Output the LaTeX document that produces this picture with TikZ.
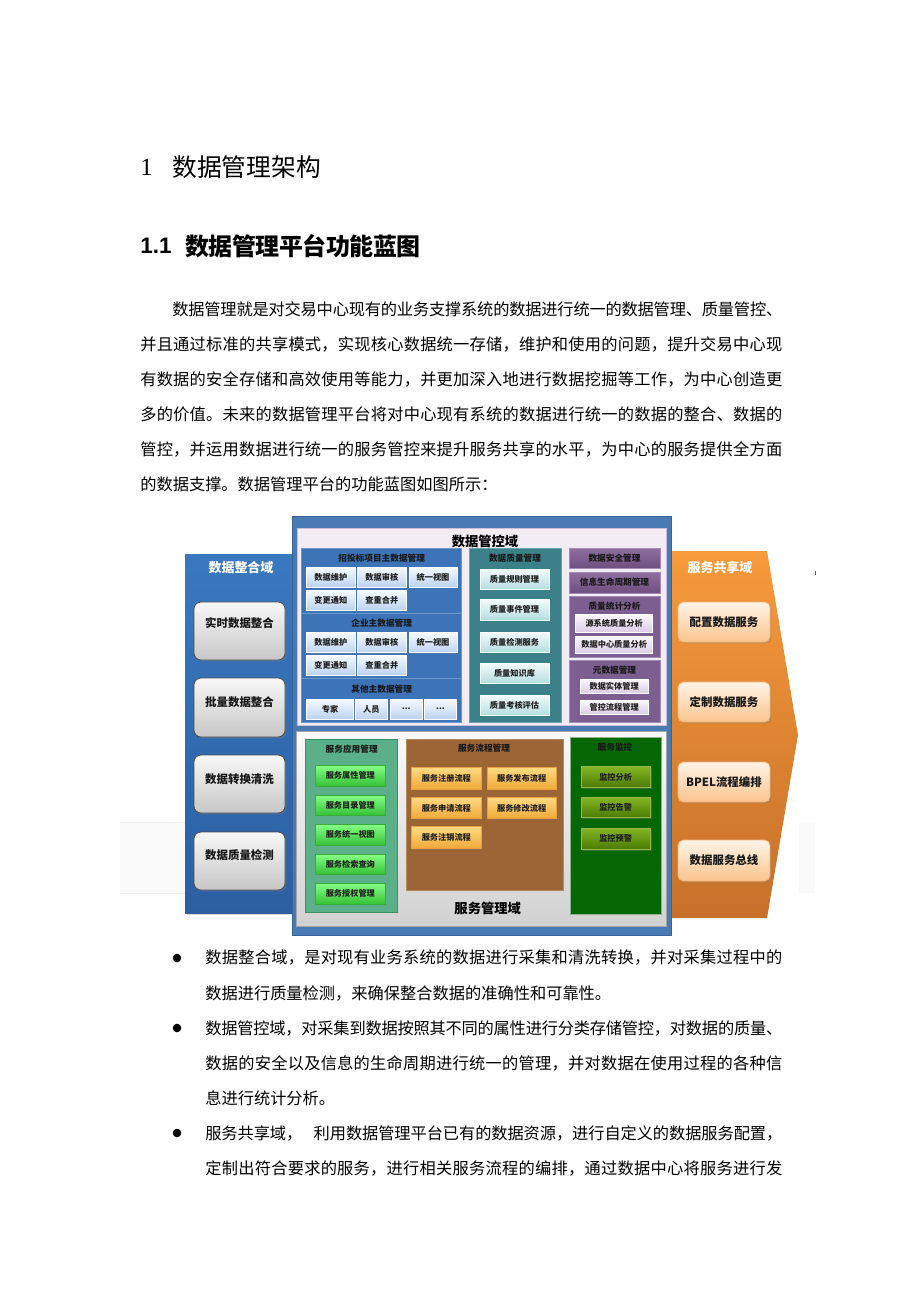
\documentclass[tikz,border=0pt]{standalone}
\usepackage{fontspec}
\setmainfont{Noto Sans CJK SC}
\newfontfamily\tnr{Liberation Serif}
\newfontfamily\arl{Liberation Sans}
\usetikzlibrary{shadows,calc}
% inter-character glue for CJK justification
\XeTeXinterchartokenstate=1
\chardef\cjkcls=7
\newcount\mycnt
\mycnt="3000 \loop\XeTeXcharclass\mycnt=\cjkcls\advance\mycnt by 1\relax\ifnum\mycnt<"3040 \repeat
\mycnt="4E00 \loop\XeTeXcharclass\mycnt=\cjkcls\advance\mycnt by 1\relax\ifnum\mycnt<"A000 \repeat
\mycnt="FF00 \loop\XeTeXcharclass\mycnt=\cjkcls\advance\mycnt by 1\relax\ifnum\mycnt<"FFF0 \repeat
\XeTeXinterchartoks\cjkcls\cjkcls={\hskip0pt plus 3pt minus 0.3pt\relax}
\newdimen\pxu \pxu=0.6467pt
\definecolor{lpTop}{HTML}{3A78BF}\definecolor{lpBot}{HTML}{2B5FA2}
\definecolor{rpTop}{HTML}{F79A3B}\definecolor{rpBot}{HTML}{C6702A}
\definecolor{frame}{HTML}{4A7AB3}\definecolor{frameD}{HTML}{37629A}
\definecolor{upper}{HTML}{F3ECF5}\definecolor{upperD}{HTML}{CDBED6}
\definecolor{mblue}{HTML}{3D73B7}\definecolor{mblueL}{HTML}{6B97CC}
\definecolor{teal}{HTML}{3C8189}\definecolor{tealL}{HTML}{6AA3AA}
\definecolor{purT}{HTML}{8F6EA0}\definecolor{purB}{HTML}{6E5080}
\definecolor{purS}{HTML}{7D5E90}\definecolor{purL}{HTML}{A48BB4}
\definecolor{gapp}{HTML}{5BAF89}\definecolor{gappD}{HTML}{3E8E6A}
\definecolor{brown}{HTML}{9C6535}\definecolor{brownL}{HTML}{B58A5C}
\definecolor{mon}{HTML}{056805}\definecolor{monL}{HTML}{8FAF8F}
\newcommand\bx[6]{\path[#2] #4 rectangle #5; \node[#3] (#1) at ($#4!0.5!#5$) {#6};}
\tikzset{
  body/.style={inner sep=0, anchor=west, font=\fontsize{10.5}{12}\selectfont, text=black},
  shd/.style={drop shadow={opacity=0.35, shadow xshift=0.9pt, shadow yshift=-0.9pt}},
  tiny/.style={inner sep=0, font=\bfseries\fontsize{5.3}{6}\selectfont, text=black!88},
  sub/.style={inner sep=0, font=\bfseries\fontsize{5.6}{6.5}\selectfont, text=black!90},
  side/.style={inner sep=0, font=\bfseries\fontsize{7.4}{8}\selectfont, text=black!90},
  ptitle/.style={inner sep=0, font=\bfseries\fontsize{8.4}{9}\selectfont, text=white},
  btitle/.style={inner sep=0, font=\bfseries\fontsize{8.6}{9}\selectfont, text=black},
  gbtn/.style={shd, rounded corners=4.5pt, top color=white!97!black, bottom color=black!22, draw=black!70, line width=0.5pt},
  obtn/.style={shd, rounded corners=3.5pt, top color={rgb,255:red,255;green,244;blue,232}, bottom color={rgb,255:red,251;green,196;blue,140}, draw={rgb,255:red,242;green,181;blue,122}, line width=0.4pt},
  bbtn/.style={shd, top color={rgb,255:red,246;green,250;blue,255}, bottom color={rgb,255:red,188;green,210;blue,240}, draw=white, line width=0.4pt},
  tbtn/.style={shd, top color={rgb,255:red,243;green,251;blue,251}, bottom color={rgb,255:red,181;green,221;blue,225}, draw=white, line width=0.4pt},
  pbtn/.style={shd, top color={rgb,255:red,251;green,248;blue,253}, bottom color={rgb,255:red,220;green,205;blue,230}, draw=white, line width=0.4pt},
  pbox/.style={shd, top color=purT, bottom color=purB, draw=purL, line width=0.4pt},
  grbtn/.style={shd, top color={rgb,255:red,134;green,255;blue,134}, bottom color={rgb,255:red,54;green,194;blue,54}, draw={rgb,255:red,58;green,170;blue,58}, line width=0.4pt},
  ybtn/.style={shd, top color={rgb,255:red,255;green,218;blue,128}, bottom color={rgb,255:red,239;green,169;blue,58}, draw={rgb,255:red,232;green,160;blue,64}, line width=0.4pt},
  mbtn/.style={shd, top color={rgb,255:red,132;green,181;blue,36}, bottom color={rgb,255:red,75;green,122;blue,2}, draw={rgb,255:red,148;green,184;blue,74}, line width=0.4pt},
}
\begin{document}
\begin{tikzpicture}[x=0.6467pt, y=-0.6467pt]
\useasboundingbox (0,0) rectangle (920,1302);
\fill[white] (0,0) rectangle (920,1302);

% ---------- headings ----------
\node[inner sep=0, anchor=west, font=\tnr\fontsize{16}{18}\selectfont] (h1n) at (140,167) {1};
\node[inner sep=0, anchor=west, font=\fontsize{16}{18}\selectfont] (h1t) at (172,167) {数据管理架构};
\node[inner sep=0, anchor=west, font=\arl\bfseries\fontsize{14.5}{16}\selectfont] (h2n) at (140,246) {1.1};
\node[inner sep=0, anchor=west, font=\bfseries\fontsize{15.5}{17}\selectfont] (h2t) at (185,246) {\makebox[230\pxu][s]{数据管理平台功能蓝图}};

% ---------- paragraph ----------
\node[body] (p1) at (172,309) {\makebox[610\pxu][s]{数据管理就是对交易中心现有的业务支撑系统的数据进行统一的数据管理、质量管控、}};
\node[body] (p2) at (140,344) {\makebox[642\pxu][s]{并且通过标准的共享模式，实现核心数据统一存储，维护和使用的问题，提升交易中心现}};
\node[body] (p3) at (140,379) {\makebox[642\pxu][s]{有数据的安全存储和高效使用等能力，并更加深入地进行数据挖掘等工作，为中心创造更}};
\node[body] (p4) at (140,414) {\makebox[642\pxu][s]{多的价值。未来的数据管理平台将对中心现有系统的数据进行统一的数据的整合、数据的}};
\node[body] (p5) at (140,449) {\makebox[642\pxu][s]{管控，并运用数据进行统一的服务管控来提升服务共享的水平，为中心的服务提供全方面}};
\node[body] (p6) at (140,484) {的数据支撑。数据管理平台的功能蓝图如图所示：};

% ---------- faint scan artifacts ----------
\fill[black!2] (120,822) rectangle (185,893);
\draw[black!6, line width=0.3pt] (120,822) -- (185,822) (120,893) -- (185,893);
\fill[black!2] (799,822) rectangle (815,893);

% ---------- left panel ----------
\path[drop shadow={opacity=0.3, shadow xshift=1.5pt, shadow yshift=-1.5pt}, top color=lpTop, bottom color=lpBot] (185,554) rectangle (300,913);
\node[ptitle] (lt) at (241,568) {数据整合域};
\path[gbtn] (194,602) rectangle (285,660); \node[side] (l1) at (239.5,623) {实时数据整合};
\path[gbtn] (194,678) rectangle (285,737); \node[side] (l2) at (239.5,702) {批量数据整合};
\path[gbtn] (194,755) rectangle (285,813); \node[side] (l3) at (239.5,779) {数据转换清洗};
\path[gbtn] (194,832) rectangle (285,890); \node[side] (l4) at (239.5,855) {数据质量检测};

% ---------- right panel ----------
\path[top color=rpTop, bottom color=rpBot] (660,551) -- (767,551) -- (798,735) -- (767,918) -- (660,918) -- cycle;
\node[ptitle] (rt) at (720,568) {服务共享域};
\bx{r1}{obtn}{side}{(678,602)}{(770,642)}{配置数据服务}
\bx{r2}{obtn}{side}{(678,682)}{(770,722)}{定制数据服务}
\bx{r3}{obtn}{side}{(678,762)}{(770,802)}{BPEL流程编排}
\bx{r4}{obtn}{side}{(678,840)}{(770,881)}{数据服务总线}
\fill[black!60] (814.5,571) rectangle (815.5,575);

% ---------- center frame ----------
\path[fill=frame, draw=frameD, line width=0.5pt] (292,516) rectangle (671,935);
\path[fill=upper, draw=upperD, line width=0.4pt] (297.7,528) rectangle (666,725);
\node[btitle] (ct) at (485,541) {数据管控域};

% master data block
\path[fill=mblue, draw=mblueL, line width=0.5pt] (301.7,548) rectangle (461.7,722);
\draw[mblueL, line width=0.6pt] (301.7,613) -- (461.7,613);
\draw[mblueL, line width=0.6pt] (301.7,678) -- (461.7,678);
\node[sub] (m1) at (381.7,557.7) {招投标项目主数据管理};
\bx{m1a}{bbtn}{tiny}{(306.7,567)}{(355,587)}{数据维护}
\bx{m1b}{bbtn}{tiny}{(357.7,567)}{(406,587)}{数据审核}
\bx{m1c}{bbtn}{tiny}{(409,567)}{(457,587)}{统一视图}
\bx{m1d}{bbtn}{tiny}{(306.7,590)}{(355,610)}{变更通知}
\bx{m1e}{bbtn}{tiny}{(357.7,590)}{(406,610)}{查重合并}
\node[sub] (m2) at (381.7,622.7) {企业主数据管理};
\bx{m2a}{bbtn}{tiny}{(306.7,632.7)}{(355,652.7)}{数据维护}
\bx{m2b}{bbtn}{tiny}{(357.7,632.7)}{(406,652.7)}{数据审核}
\bx{m2c}{bbtn}{tiny}{(409,632.7)}{(457,652.7)}{统一视图}
\bx{m2d}{bbtn}{tiny}{(306.7,655)}{(355,675)}{变更通知}
\bx{m2e}{bbtn}{tiny}{(357.7,655)}{(406,675)}{查重合并}
\node[sub] (m3) at (381.7,689.3) {其他主数据管理};
\bx{m3a}{bbtn}{tiny}{(306.7,699)}{(353.3,719)}{专家}
\bx{m3b}{bbtn}{tiny}{(355,699)}{(387.7,719)}{人员}
\bx{m3c}{bbtn}{tiny}{(390.3,699)}{(422.3,719)}{...}
\bx{m3d}{bbtn}{tiny}{(424.3,699)}{(456.7,719)}{...}

% data quality block
\path[fill=teal, draw=tealL, line width=0.5pt] (469,548) rectangle (561,722);
\node[sub] (q0) at (515,557.7) {数据质量管理};
\bx{q1}{tbtn}{tiny}{(480,569)}{(549,589)}{质量规则管理}
\bx{q2}{tbtn}{tiny}{(480,599)}{(549,620)}{质量事件管理}
\bx{q3}{tbtn}{tiny}{(480,632)}{(549,652)}{质量检测服务}
\bx{q4}{tbtn}{tiny}{(480,663)}{(549,683)}{质量知识库}
\bx{q5}{tbtn}{tiny}{(480,695)}{(549,715)}{质量考核评估}

% purple column
\bx{s1}{pbox}{sub}{(569,548)}{(660,568)}{数据安全管理}
\bx{s2}{pbox}{sub}{(569,572)}{(660,593)}{信息生命周期管理}
\path[fill=purS, draw=purL, line width=0.5pt] (569,596) rectangle (660,657);
\node[sub] (s3) at (614.5,606) {质量统计分析};
\bx{s3a}{pbtn}{tiny}{(575.7,614)}{(652.7,632)}{源系统质量分析}
\bx{s3b}{pbtn}{tiny}{(575.7,636)}{(652.7,653)}{数据中心质量分析}
\path[fill=purS, draw=purL, line width=0.5pt] (569,660) rectangle (660,722);
\node[sub] (s4) at (614.5,670) {元数据管理};
\bx{s4a}{pbtn}{tiny}{(580,679)}{(648.3,693)}{数据实体管理}
\bx{s4b}{pbtn}{tiny}{(580,700)}{(648.3,714)}{管控流程管理}

% lower region
\path[top color=black!2, bottom color=black!18, draw=black!35, line width=0.4pt] (296.7,731) rectangle (666.7,926.7);
\path[fill=gapp, draw=gappD, line width=0.5pt] (305.7,739.3) rectangle (397.7,912.3);
\node[sub] (a0) at (351.7,749) {服务应用管理};
\bx{a1}{grbtn}{tiny}{(315.7,765)}{(385,786)}{服务属性管理}
\bx{a2}{grbtn}{tiny}{(315.7,795)}{(385,815)}{服务目录管理}
\bx{a3}{grbtn}{tiny}{(315.7,824)}{(385,845)}{服务统一视图}
\bx{a4}{grbtn}{tiny}{(315.7,854)}{(385,874)}{服务检索查询}
\bx{a5}{grbtn}{tiny}{(315.7,883)}{(385,904)}{服务授权管理}

\path[fill=brown, draw=brownL, line width=0.5pt] (406,739.3) rectangle (563.3,890);
\node[sub] (f0) at (484,747.7) {服务流程管理};
\bx{f1}{ybtn}{tiny}{(411.7,767.7)}{(481,789)}{服务注册流程}
\bx{f2}{ybtn}{tiny}{(487.3,767.7)}{(556,789)}{服务发布流程}
\bx{f3}{ybtn}{tiny}{(411.7,797.7)}{(481,818.3)}{服务申请流程}
\bx{f4}{ybtn}{tiny}{(487.3,797.7)}{(556,818.3)}{服务修改流程}
\bx{f5}{ybtn}{tiny}{(411.7,826.7)}{(481,848.3)}{服务注销流程}
\node[btitle] (smt) at (487.7,908.3) {服务管理域};

\path[fill=mon, draw=monL, line width=0.5pt] (570.7,737.3) rectangle (661,914.3);
\node[sub] (j0) at (615,747) {服务监控};
\bx{j1}{mbtn}{tiny}{(581,766.7)}{(650.3,787.3)}{监控分析}
\bx{j2}{mbtn}{tiny}{(581,797.3)}{(650.3,817.7)}{监控告警}
\bx{j3}{mbtn}{tiny}{(581,828.3)}{(650.3,849.3)}{监控预警}

% ---------- bullet list ----------
\fill[black] (177,958) circle (4.3);
\fill[black] (177,1028) circle (4.3);
\fill[black] (177,1133) circle (4.3);
\node[body] (b1a) at (205,958) {\makebox[577\pxu][s]{数据整合域，是对现有业务系统的数据进行采集和清洗转换，并对采集过程中的}};
\node[body] (b1b) at (205,993) {数据进行质量检测，来确保整合数据的准确性和可靠性。};
\node[body] (b2a) at (205,1028) {\makebox[577\pxu][s]{数据管控域，对采集到数据按照其不同的属性进行分类存储管控，对数据的质量、}};
\node[body] (b2b) at (205,1063) {\makebox[577\pxu][s]{数据的安全以及信息的生命周期进行统一的管理，并对数据在使用过程的各种信}};
\node[body] (b2c) at (205,1098) {息进行统计分析。};
\node[body] (b3a) at (205,1133) {\makebox[577\pxu][s]{服务共享域，\hspace{0.7em}利用数据管理平台已有的数据资源，进行自定义的数据服务配置，}};
\node[body] (b3b) at (205,1168) {\makebox[577\pxu][s]{定制出符合要求的服务，进行相关服务流程的编排，通过数据中心将服务进行发}};
\end{tikzpicture}
\end{document}
